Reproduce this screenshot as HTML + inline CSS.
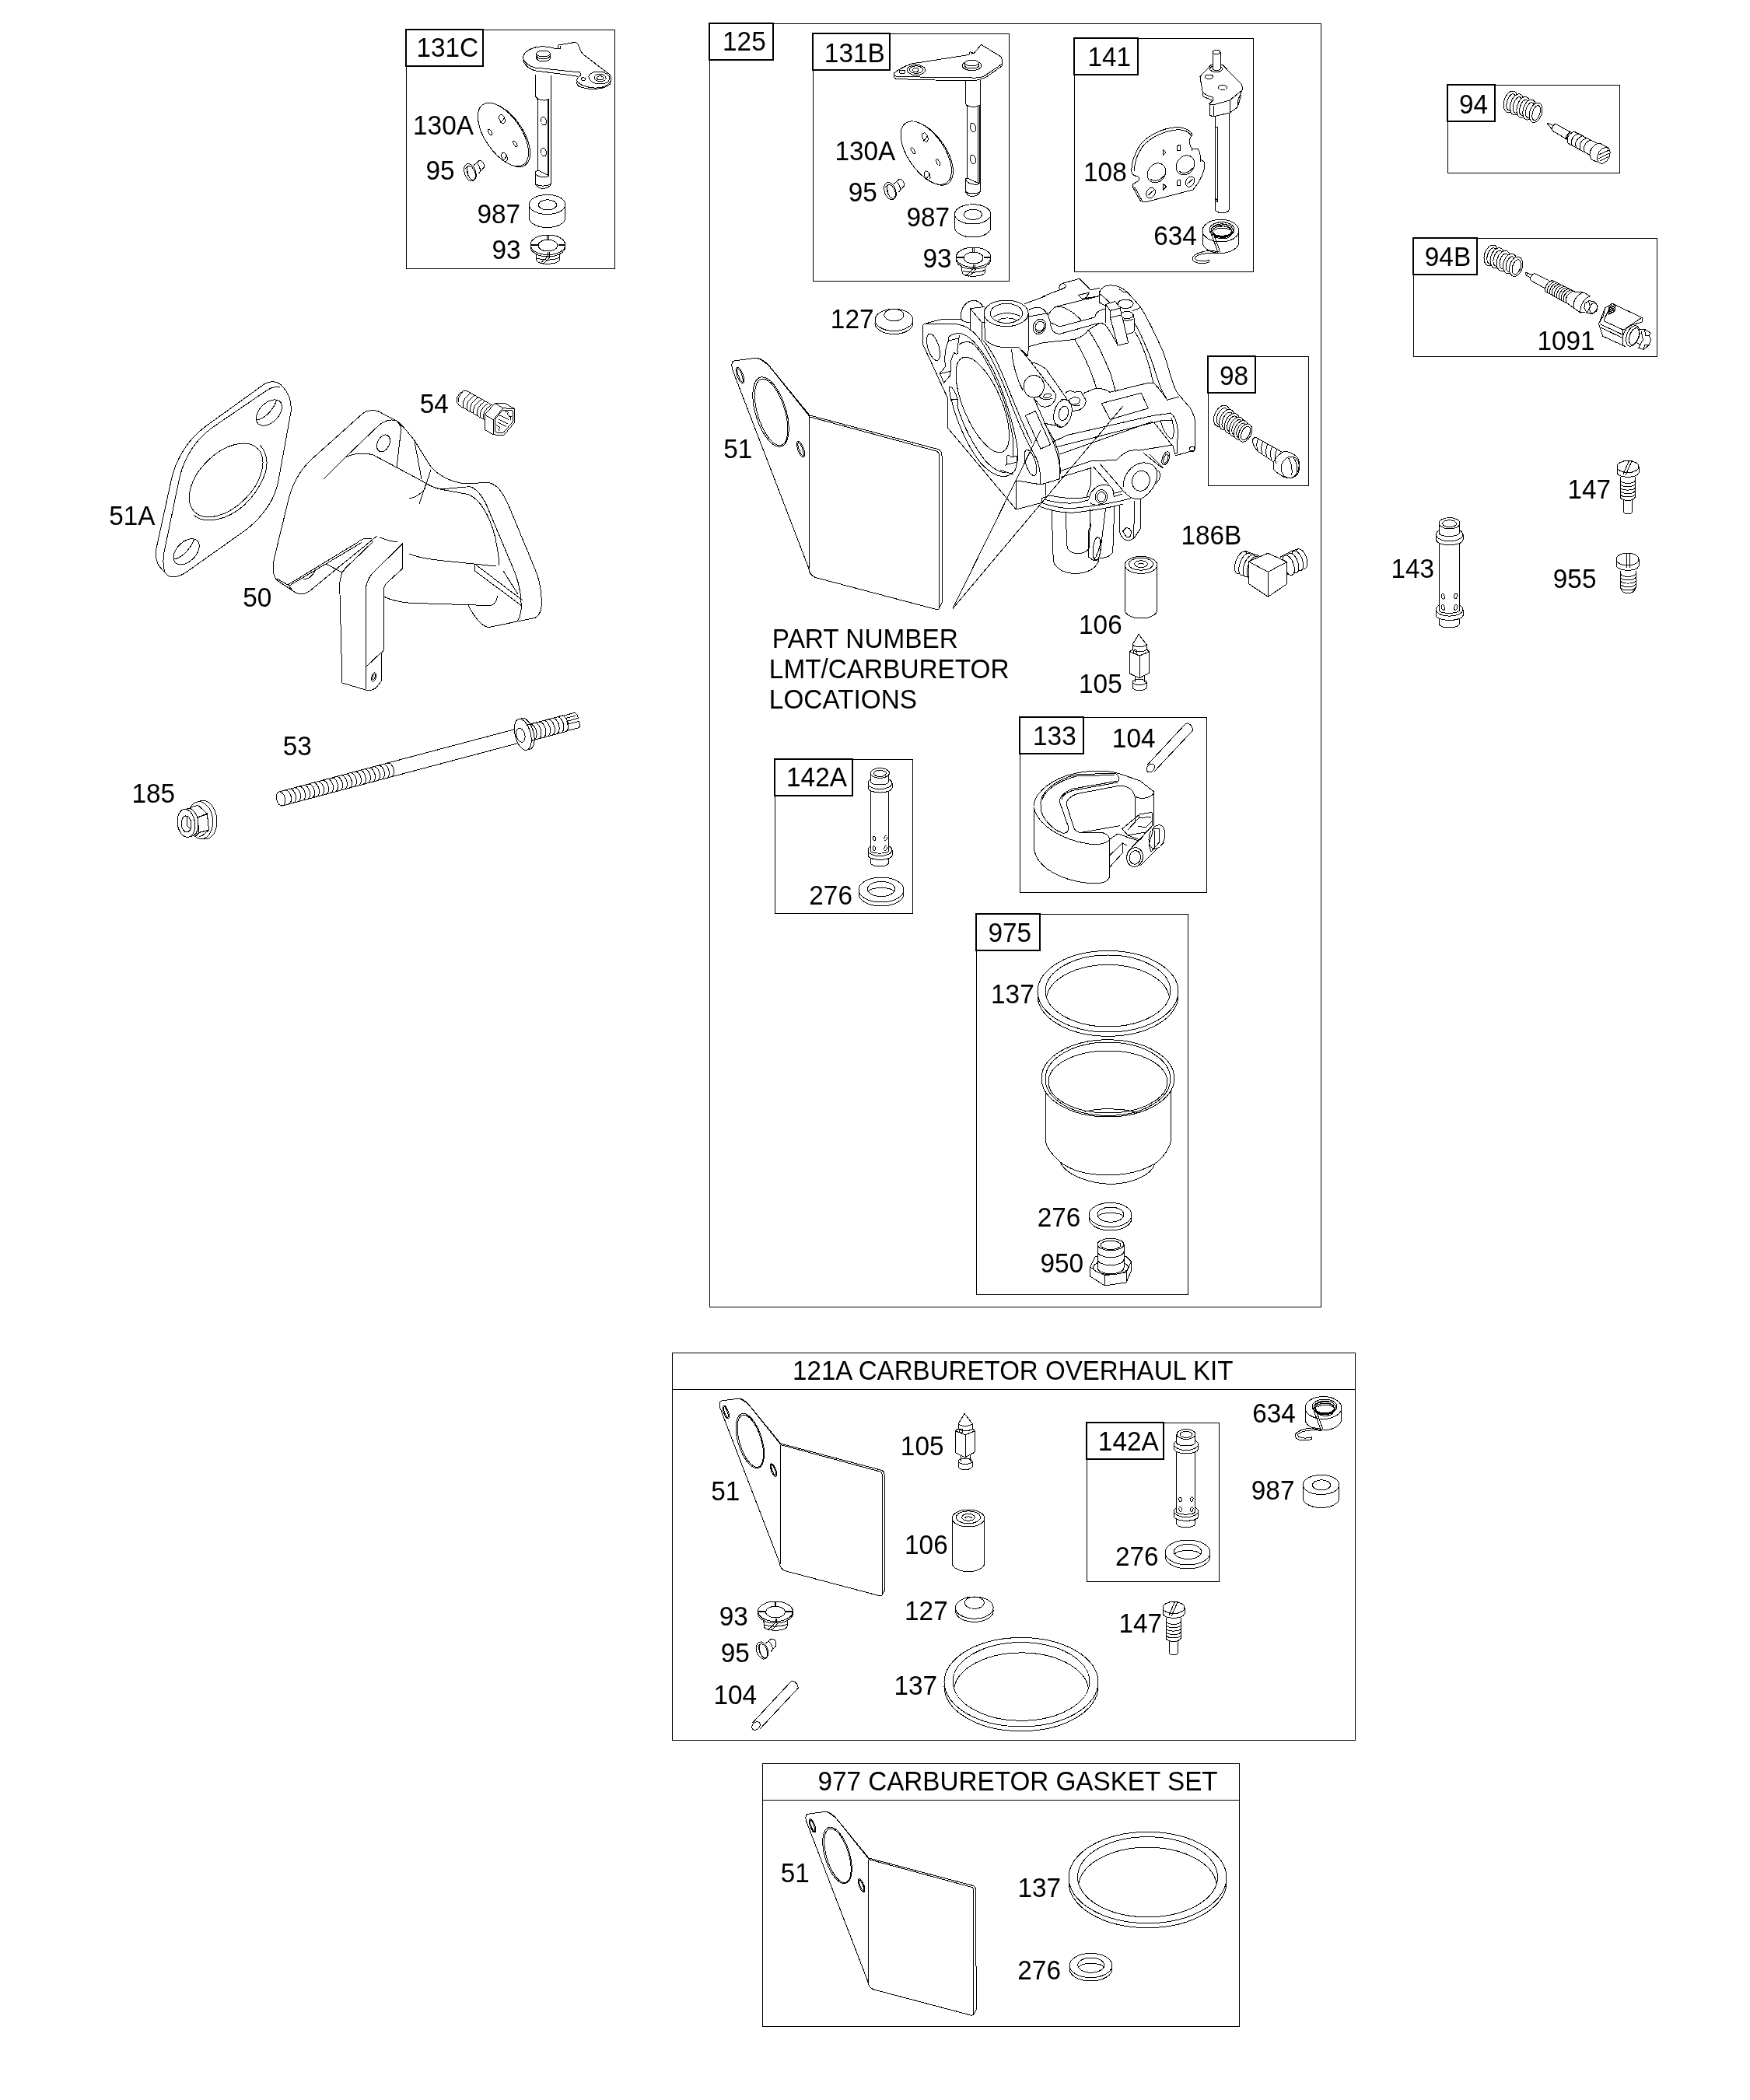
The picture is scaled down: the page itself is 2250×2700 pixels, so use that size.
<!DOCTYPE html>
<html><head><meta charset="utf-8"><title>Carburetor parts diagram</title>
<style>
html,body{margin:0;padding:0;background:#fff}
svg{display:block;filter:grayscale(1)}
text{font-family:"Liberation Sans",sans-serif;font-size:33.33px;fill:#000;stroke:none}
.b{fill:none;stroke:#000;stroke-width:1;shape-rendering:crispEdges}
.l{fill:none;stroke:#000;stroke-width:2;shape-rendering:crispEdges}
.p{fill:none;stroke:#000;stroke-width:1;shape-rendering:crispEdges}
.p *{vector-effect:non-scaling-stroke}
.w{fill:#fff}
</style></head><body>
<svg width="2250" height="2700" viewBox="0 0 2250 2700">
<rect x="0" y="0" width="2250" height="2700" fill="#fff"/>
<g class="p">
<rect class="b" x="522.5" y="38.5" width="268" height="307"/>
<rect class="l" x="522" y="38" width="99" height="47"/>
<rect class="b" x="912.5" y="30.5" width="786" height="1650"/>
<rect class="l" x="912" y="30" width="82" height="47"/>
<rect class="b" x="1045.5" y="43.5" width="252" height="318"/>
<rect class="l" x="1045" y="43" width="99" height="47"/>
<rect class="b" x="1381.5" y="49.5" width="230" height="300"/>
<rect class="l" x="1381" y="49" width="82" height="47"/>
<rect class="b" x="1553.5" y="458.5" width="129" height="166"/>
<rect class="l" x="1553" y="458" width="61" height="47"/>
<rect class="b" x="1311.5" y="922.5" width="240" height="225"/>
<rect class="l" x="1311" y="922" width="82" height="47"/>
<rect class="b" x="996.5" y="976.5" width="177" height="198"/>
<rect class="l" x="996" y="976" width="100" height="47"/>
<rect class="b" x="1255.5" y="1175.5" width="272" height="489"/>
<rect class="l" x="1255" y="1175" width="82" height="47"/>
<rect class="b" x="1861.5" y="109.5" width="221" height="113"/>
<rect class="l" x="1861" y="109" width="61" height="47"/>
<rect class="b" x="1817.5" y="306.5" width="313" height="152"/>
<rect class="l" x="1817" y="306" width="82" height="47"/>
<rect class="b" x="864.5" y="1739.5" width="878" height="498"/>
<path class="b" d="M864 1786.5H1743"/>
<rect class="b" x="1397.5" y="1829.5" width="170" height="204"/>
<rect class="l" x="1397" y="1829" width="99" height="47"/>
<rect class="b" x="980.5" y="2267.5" width="613" height="338"/>
<path class="b" d="M980 2314.5H1594"/>
<text transform="translate(535.47,73.40) scale(1,1.04)">131C</text>
<text transform="translate(531.07,173.40) scale(1,1.04)">130A</text>
<text transform="translate(547.43,231.40) scale(1,1.04)">95</text>
<text transform="translate(613.43,287.40) scale(1,1.04)">987</text>
<text transform="translate(632.43,333.00) scale(1,1.04)">93</text>
<text transform="translate(929.07,65.20) scale(1,1.04)">125</text>
<text transform="translate(1059.87,80.00) scale(1,1.04)">131B</text>
<text transform="translate(1073.47,206.00) scale(1,1.04)">130A</text>
<text transform="translate(1090.83,259.40) scale(1,1.04)">95</text>
<text transform="translate(1165.43,291.40) scale(1,1.04)">987</text>
<text transform="translate(1186.43,344.00) scale(1,1.04)">93</text>
<text transform="translate(1067.87,422.00) scale(1,1.04)">127</text>
<text transform="translate(1398.47,84.60) scale(1,1.04)">141</text>
<text transform="translate(1393.07,233.00) scale(1,1.04)">108</text>
<text transform="translate(1483.30,315.00) scale(1,1.04)">634</text>
<text transform="translate(1568.03,494.60) scale(1,1.04)">98</text>
<text transform="translate(1518.47,700.20) scale(1,1.04)">186B</text>
<text transform="translate(930.27,589.00) scale(1,1.04)">51</text>
<text transform="translate(1387.07,815.00) scale(1,1.04)">106</text>
<text transform="translate(1387.07,891.00) scale(1,1.04)">105</text>
<text transform="translate(1328.07,958.00) scale(1,1.04)">133</text>
<text transform="translate(1429.87,960.60) scale(1,1.04)">104</text>
<text transform="translate(1270.43,1211.40) scale(1,1.04)">975</text>
<text transform="translate(1274.07,1289.60) scale(1,1.04)">137</text>
<text transform="translate(1333.73,1576.60) scale(1,1.04)">276</text>
<text transform="translate(1337.43,1636.00) scale(1,1.04)">950</text>
<text transform="translate(992.87,833.00) scale(1,1.04)">PART NUMBER</text>
<text transform="translate(988.87,872.00) scale(1,1.04)">LMT/CARBURETOR</text>
<text transform="translate(988.87,911.00) scale(1,1.04)">LOCATIONS</text>
<text transform="translate(1011.07,1011.40) scale(1,1.04)">142A</text>
<text transform="translate(1040.33,1162.60) scale(1,1.04)">276</text>
<text transform="translate(1876.03,146.40) scale(1,1.04)">94</text>
<text transform="translate(1831.83,342.00) scale(1,1.04)">94B</text>
<text transform="translate(1976.47,450.00) scale(1,1.04)">1091</text>
<text transform="translate(2015.47,641.00) scale(1,1.04)">147</text>
<text transform="translate(1788.47,743.00) scale(1,1.04)">143</text>
<text transform="translate(1996.83,756.00) scale(1,1.04)">955</text>
<text transform="translate(140.27,675.40) scale(1,1.04)">51A</text>
<text transform="translate(312.27,780.00) scale(1,1.04)">50</text>
<text transform="translate(539.67,531.00) scale(1,1.04)">54</text>
<text transform="translate(169.47,1032.00) scale(1,1.04)">185</text>
<text transform="translate(363.67,971.00) scale(1,1.04)">53</text>
<text transform="translate(1019.08,1774.00) scale(0.9933,1.04)">121A CARBURETOR OVERHAUL KIT</text>
<text transform="translate(914.27,1929.00) scale(1,1.04)">51</text>
<text transform="translate(924.83,2090.00) scale(1,1.04)">93</text>
<text transform="translate(926.83,2137.00) scale(1,1.04)">95</text>
<text transform="translate(917.47,2191.00) scale(1,1.04)">104</text>
<text transform="translate(1157.87,1871.00) scale(1,1.04)">105</text>
<text transform="translate(1163.07,1998.00) scale(1,1.04)">106</text>
<text transform="translate(1163.07,2082.60) scale(1,1.04)">127</text>
<text transform="translate(1149.47,2179.00) scale(1,1.04)">137</text>
<text transform="translate(1411.87,1865.00) scale(1,1.04)">142A</text>
<text transform="translate(1433.93,2013.00) scale(1,1.04)">276</text>
<text transform="translate(1438.47,2099.00) scale(1,1.04)">147</text>
<text transform="translate(1610.30,1828.60) scale(1,1.04)">634</text>
<text transform="translate(1608.83,1928.00) scale(1,1.04)">987</text>
<text transform="translate(1051.44,2301.60) scale(0.9977,1.04)">977 CARBURETOR GASKET SET</text>
<text transform="translate(1003.67,2420.00) scale(1,1.04)">51</text>
<text transform="translate(1308.47,2439.40) scale(1,1.04)">137</text>
<text transform="translate(1308.33,2545.40) scale(1,1.04)">276</text>
<g transform="translate(500,20) scale(0.2)"><path d="M940,380L940,515C945,530 955,535 958,540L958,995C950,998 942,1003 940,1010L940,1080C945,1098 968,1112 990,1112C1012,1112 1036,1100 1040,1085L1040,385" class="w"/><path d="M940,515C955,548 1010,552 1030,535"/><path d="M1028,535L1028,1030M1021,540L1021,1026"/><path d="M958,995L1028,1030M940,1010C950,1042 1010,1047 1028,1030M940,1080C960,1100 1020,1100 1040,1082"/><ellipse cx="995" cy="678" rx="17" ry="27" transform="rotate(-10 995 678)"/><ellipse cx="995" cy="878" rx="17" ry="27" transform="rotate(-10 995 878)"/><path d="M864,285C866,312 900,345 945,355L1200,388L1215,395M1210,425C1203,440 1215,455 1240,462C1290,478 1385,478 1422,440L1427,415"/><path d="M862,272C865,240 900,215 950,203C990,195 1030,200 1060,210L1088,213L1090,190L1195,172C1210,172 1218,185 1225,205C1232,225 1238,240 1250,250L1400,365C1425,375 1432,400 1425,420C1415,450 1370,468 1320,465C1270,462 1225,445 1212,425C1205,410 1215,395 1235,385L1228,365L940,335C900,325 870,300 862,272Z" class="w"/><path d="M948,245L948,275C960,300 1025,300 1038,275L1038,245" class="w"/><ellipse cx="993" cy="245" rx="45" ry="20" class="w"/><path d="M950,262C965,285 1020,285 1036,262"/><ellipse cx="1352" cy="400" rx="68" ry="40" transform="rotate(5 1352 400)"/><ellipse cx="1358" cy="400" rx="38" ry="24" transform="rotate(5 1358 400)"/><ellipse cx="1358" cy="402" rx="20" ry="13"/><ellipse cx="1250" cy="408" rx="13" ry="9"/><path d="M1088,213L1100,215L1102,195"/><ellipse cx="745" cy="769" rx="233" ry="117" transform="rotate(55.6 745 769)" class="w"/><ellipse cx="735" cy="765" rx="233" ry="117" transform="rotate(55.6 735 765)" class="w"/><ellipse cx="728" cy="665" rx="17" ry="30" transform="rotate(-22 728 665)"/><ellipse cx="742" cy="910" rx="17" ry="30" transform="rotate(-22 742 910)"/><ellipse cx="650" cy="750" rx="9" ry="23" transform="rotate(-30 650 750)"/><ellipse cx="812" cy="825" rx="9" ry="23" transform="rotate(-30 812 825)"/><path d="M718,690C725,680 740,668 745,650"/><path d="M732,935C740,925 755,912 760,895"/><path d="M545,962L578,935C598,928 615,948 612,975L578,1015" class="w"/><path d="M562,948C578,958 590,985 588,1003"/><ellipse cx="522" cy="1008" rx="36" ry="58" transform="rotate(-20 522 1008)" class="w"/><ellipse cx="529" cy="1012" rx="24" ry="47" transform="rotate(-20 529 1012)"/><path d="M505,975C500,1000 510,1040 530,1055"/><path d="M490,985L510,968"/><path d="M902,1215L902,1300A116,63 0 0 0 1134,1300L1134,1215" class="w"/><ellipse cx="1018" cy="1215" rx="116" ry="63" class="w"/><ellipse cx="1020" cy="1217" rx="58" ry="33"/><path d="M945,1520L950,1575C965,1602 1080,1606 1098,1570L1100,1520" class="w"/><path d="M975,1590C1000,1572 1020,1552 1030,1527"/><path d="M990,1597C1012,1582 1032,1562 1042,1537"/><path d="M952,1560C990,1575 1060,1575 1098,1555"/><ellipse cx="1022" cy="1486" rx="112" ry="64" class="w"/><ellipse cx="1022" cy="1474" rx="112" ry="64" class="w"/><ellipse cx="1022" cy="1478" rx="62" ry="37"/><path d="M1018,1410L1018,1438M1027,1410L1027,1438M912,1472L958,1472M912,1479L958,1479M1088,1472L1134,1472M1088,1479L1134,1479M1024,1518L1024,1548M1031,1518L1031,1548"/></g>
<g transform="translate(1150,20) scale(0.2)"><path d="M457,420L457,565C462,575 467,578 467,580L467,1045C460,1047 457,1050 457,1055L457,1130C462,1150 480,1162 500,1162C522,1162 548,1150 553,1130L553,415" class="w"/><path d="M457,565C470,592 530,592 545,575M545,575L545,1080M538,580L538,1076M467,1045L545,1080M457,1052C470,1087 530,1092 545,1080M457,1130C475,1150 535,1150 553,1130"/><ellipse cx="505" cy="720" rx="17" ry="29" transform="rotate(-10 505 720)"/><ellipse cx="505" cy="925" rx="17" ry="29" transform="rotate(-10 505 925)"/><path d="M-5,380C-5,395 0,405 15,408L260,415L500,418C540,418 570,405 590,395L690,325L690,312"/><path d="M-5,372C20,350 70,325 110,310L480,252L485,233L510,243L558,187L685,265C692,280 692,300 690,312L575,390C560,398 520,402 500,400C400,395 200,398 20,392C5,390 -5,382 -5,372Z" class="w"/><ellipse cx="498" cy="322" rx="62" ry="31" class="w"/><path d="M453,305L453,325C465,345 530,345 543,325L543,305" class="w"/><ellipse cx="498" cy="305" rx="45" ry="20" class="w"/><ellipse cx="140" cy="350" rx="58" ry="33"/><ellipse cx="140" cy="348" rx="42" ry="24"/><ellipse cx="137" cy="350" rx="18" ry="12"/><ellipse cx="50" cy="362" rx="20" ry="12"/><path d="M485,233L497,238L495,250"/></g>
<g transform="translate(1043.8,43.6) scale(0.2)"><ellipse cx="745" cy="769" rx="233" ry="117" transform="rotate(55.6 745 769)" class="w"/><ellipse cx="735" cy="765" rx="233" ry="117" transform="rotate(55.6 735 765)" class="w"/><ellipse cx="728" cy="665" rx="17" ry="30" transform="rotate(-22 728 665)"/><ellipse cx="742" cy="910" rx="17" ry="30" transform="rotate(-22 742 910)"/><ellipse cx="650" cy="750" rx="9" ry="23" transform="rotate(-30 650 750)"/><ellipse cx="812" cy="825" rx="9" ry="23" transform="rotate(-30 812 825)"/><path d="M718,690C725,680 740,668 745,650"/><path d="M732,935C740,925 755,912 760,895"/></g>
<g transform="translate(1040,44) scale(0.2)"><path d="M545,962L578,935C598,928 615,948 612,975L578,1015" class="w"/><path d="M562,948C578,958 590,985 588,1003"/><ellipse cx="522" cy="1008" rx="36" ry="58" transform="rotate(-20 522 1008)" class="w"/><ellipse cx="529" cy="1012" rx="24" ry="47" transform="rotate(-20 529 1012)"/><path d="M505,975C500,1000 510,1040 530,1055"/><path d="M490,985L510,968"/></g>
<g transform="translate(1047,32.4) scale(0.2)"><path d="M902,1215L902,1300A116,63 0 0 0 1134,1300L1134,1215" class="w"/><ellipse cx="1018" cy="1215" rx="116" ry="63" class="w"/><ellipse cx="1020" cy="1217" rx="58" ry="33"/></g>
<g transform="translate(1047.2,36) scale(0.2)"><path d="M945,1520L950,1575C965,1602 1080,1606 1098,1570L1100,1520" class="w"/><path d="M975,1590C1000,1572 1020,1552 1030,1527"/><path d="M990,1597C1012,1582 1032,1562 1042,1537"/><path d="M952,1560C990,1575 1060,1575 1098,1555"/><ellipse cx="1022" cy="1486" rx="112" ry="64" class="w"/><ellipse cx="1022" cy="1474" rx="112" ry="64" class="w"/><ellipse cx="1022" cy="1478" rx="62" ry="37"/><path d="M1018,1410L1018,1438M1027,1410L1027,1438M912,1472L958,1472M912,1479L958,1479M1088,1472L1134,1472M1088,1479L1134,1479M1024,1518L1024,1548M1031,1518L1031,1548"/></g>
<g transform="translate(1370,20) scale(0.2)"><path d="M960,640L960,1245C965,1262 990,1270 1008,1270C1030,1268 1050,1258 1053,1245L1053,620" class="w"/><path d="M963,715L978,715L978,1195L963,1195M963,1170L978,1195"/><path d="M925,568L925,640L950,650L1055,625L1105,590L1110,540L1135,480L1055,545L945,575Z" class="w"/><path d="M950,578L950,650M1055,545L1055,625M1105,590L1130,510"/><path d="M865,392L935,318C960,308 990,308 1010,318L1130,440C1138,455 1138,470 1135,480L1055,545L945,575L925,568L945,547L945,525C910,515 885,505 880,485Z" class="w"/><path d="M865,392L868,430M880,485L885,520L945,547"/><ellipse cx="968" cy="343" rx="40" ry="20"/><path d="M945,235L945,345C955,355 985,355 995,345L995,235" class="w"/><ellipse cx="970" cy="235" rx="25" ry="12" class="w"/><ellipse cx="922" cy="393" rx="25" ry="13"/><ellipse cx="1010" cy="463" rx="28" ry="15"/><path d="M425,1005C420,960 440,890 480,830C530,770 620,725 710,718C760,716 800,735 815,765L800,790C795,820 800,845 815,855L850,858C865,875 868,900 870,925L895,945C895,1000 870,1060 820,1120L510,1200C495,1200 485,1195 478,1185L430,1100L430,1085L470,1062C478,1050 475,1040 465,1035L440,1028C430,1022 426,1015 425,1005Z" class="w"/><path d="M442,1000C442,950 457,895 497,840C542,785 632,742 717,734C760,732 790,747 805,767M430,1100L447,1108L492,1190M815,855L812,868M870,925L868,940"/><ellipse cx="585" cy="1012" rx="55" ry="66" transform="rotate(35 585 1012)"/><ellipse cx="770" cy="962" rx="55" ry="66" transform="rotate(35 770 962)"/><ellipse cx="800" cy="1068" rx="27" ry="36" transform="rotate(30 800 1068)"/><ellipse cx="548" cy="1140" rx="27" ry="36" transform="rotate(30 548 1140)"/><path d="M545,1050C565,1072 610,1060 632,1030M730,1000C750,1022 795,1010 817,980M780,1085L820,1050M528,1158L568,1122"/><path d="M628,862L628,897L646,880ZM718,838L738,832L738,866L718,868ZM628,1082L628,1120L648,1100ZM718,1060L738,1057L738,1091L718,1092Z"/><path d="M880,1383L880,1455A117,72 0 0 0 1114,1455L1114,1383" class="w"/><ellipse cx="997" cy="1383" rx="117" ry="72" class="w"/><ellipse cx="1005" cy="1376" rx="80" ry="48"/><ellipse cx="1006" cy="1380" rx="70" ry="41"/><ellipse cx="1007" cy="1386" rx="60" ry="33"/><path d="M940,1395C960,1422 1050,1425 1075,1392M945,1405C965,1432 1045,1435 1068,1405M935,1380C945,1350 1000,1338 1050,1348M950,1372C965,1352 1040,1348 1065,1368M958,1380C972,1364 1035,1360 1058,1378M952,1412C972,1440 1040,1442 1060,1416"/><path d="M928,1380L980,1522M942,1378L994,1520"/><path d="M985,1520C950,1510 900,1510 860,1525C820,1540 805,1560 825,1580C850,1598 900,1595 922,1585L922,1572C900,1580 860,1582 840,1570C825,1558 835,1545 870,1535C910,1525 950,1525 985,1530"/></g>
<g transform="translate(1180,380) scale(0.14285714285714285)"><path d="M42,430L42,290C42,265 55,255 75,250L225,212L392,212"/><path d="M42,430L270,925L270,1192L885,1925L1115,1865"/><path d="M75,252L350,258C420,265 480,300 540,370"/><path d="M885,1665L885,1925M885,1665L1105,1700L1148,1690L1150,1800"/><path d="M392,212C375,150 410,60 490,45C540,40 570,70 590,100M392,212C400,232 420,240 470,242"/><path d="M472,118L600,100M472,118L472,300M472,118L580,245L608,240M580,245L578,405"/><ellipse cx="795" cy="160" rx="200" ry="118"/><ellipse cx="798" cy="160" rx="145" ry="88"/><path d="M680,195C720,160 830,140 920,185M720,225C760,195 850,195 890,225"/><path d="M595,165L608,400C660,450 740,475 850,465L910,468L990,545M995,165L998,455L990,545"/><path d="M960,75L1150,5"/><ellipse cx="140" cy="465" rx="50" ry="125" transform="rotate(-17 140 465)"/><path d="M200,705L295,680L290,720L235,785Z"/><path d="M280,370L278,405L370,385L375,355M370,385L355,500M330,510C330,525 350,530 360,520L360,495"/><path d="M278,405C255,450 240,520 245,600L248,640L200,700M330,510C300,560 290,620 295,680"/><path d="M280,830C300,805 335,850 360,940L360,990M280,830L300,940L360,930"/><path d="M280,370C320,340 370,335 400,345C480,370 560,470 640,600C720,740 800,960 850,1150C890,1300 905,1400 900,1470"/><path d="M370,440C400,420 450,410 480,425C560,470 650,640 740,850C800,1000 850,1200 860,1330L855,1450"/><path d="M540,370C640,500 760,760 850,1000C920,1180 1000,1350 1060,1450C1095,1520 1108,1600 1105,1700"/><path d="M590,405C660,480 720,600 800,800C880,1000 960,1200 1030,1330"/><ellipse cx="583" cy="983" rx="172" ry="460" transform="rotate(-23 583 983)"/><path d="M300,930C340,1100 430,1330 560,1500C640,1590 720,1640 800,1625C830,1615 860,1595 880,1565L900,1470"/><path d="M355,990C400,1150 500,1360 620,1500C690,1570 760,1600 790,1590M740,1570L860,1610"/><path d="M800,1445C815,1435 830,1440 835,1455L895,1445L895,1500L800,1520ZM800,1520L780,1535"/><ellipse cx="1015" cy="1505" rx="45" ry="120" transform="rotate(-17 1015 1505)"/><path d="M845,485C850,600 890,750 945,850"/><path d="M910,468L1020,600C1080,610 1130,640 1160,670L1345,935"/><ellipse cx="1045" cy="818" rx="92" ry="100"/><path d="M1020,600L1240,885C1250,920 1230,960 1200,985C1160,1010 1120,1005 1100,990L1045,925"/><ellipse cx="1165" cy="903" rx="35" ry="20" transform="rotate(-10 1165 903)"/><path d="M1090,900C1100,930 1150,950 1210,925"/><path d="M968,1080L1060,1040L1195,1340L1105,1380Z"/><path d="M1045,925C1100,1050 1180,1220 1230,1350C1260,1430 1275,1500 1278,1560L1275,1650L1148,1690"/><ellipse cx="1095" cy="280" rx="55" ry="70" transform="rotate(20 1095 280)"/><ellipse cx="1098" cy="283" rx="40" ry="52" transform="rotate(20 1098 283)"/><path d="M1065,300C1085,330 1120,320 1135,290"/><path d="M1000,128C1040,108 1090,100 1125,120C1160,150 1185,200 1195,250"/><path d="M998,188L1178,158M1000,460L1120,427"/></g>
<g transform="translate(1340,350) scale(0.14285714285714285)"><path d="M0,220L155,160C150,130 160,105 185,100L335,58L435,160L520,140M185,100C205,105 215,120 210,135L160,160"/><path d="M325,205L420,185L400,225L360,240ZM360,240L510,215"/><path d="M515,235C505,180 530,135 580,122C640,110 700,125 760,175C800,215 850,270 885,315C950,410 1030,590 1090,720C1130,830 1150,930 1185,1020C1200,1060 1220,1095 1240,1115L1330,1220C1360,1270 1375,1310 1378,1360L1375,1590C1372,1600 1365,1605 1355,1607L1200,1650"/><path d="M690,150C715,170 740,185 755,183M513,170L513,272L575,305M520,195L610,275"/><path d="M570,290L655,262L705,322L612,345ZM612,345L612,408L710,385L705,322M570,290L570,455M612,408L680,660L775,635L720,400"/><ellipse cx="750" cy="285" rx="70" ry="40"/><ellipse cx="762" cy="385" rx="55" ry="33"/><path d="M810,350L885,318M825,380L830,530C810,550 780,555 760,553M720,425C740,440 790,440 820,420"/><path d="M835,465C870,520 960,720 1000,840C1030,930 1050,1010 1075,1060L1125,1150L1235,1120M835,540C880,600 940,760 970,870C985,930 995,980 1000,1000"/><path d="M55,385C80,340 100,320 125,310L510,215M125,310C200,300 290,370 350,430M80,455L155,490L475,405L480,380C500,350 530,335 570,330"/><path d="M75,470C80,520 110,555 160,555L520,455C545,460 560,470 570,475M0,635L290,605C340,590 390,560 415,520L520,455"/><path d="M415,520C500,640 570,800 610,900C630,960 650,1030 660,1080M290,605C350,690 420,850 450,930C465,970 480,1010 485,1040M570,475C620,540 650,600 680,660"/><path d="M370,1090L480,1045C530,1040 570,1055 610,1080L960,995L1005,1000C1050,1040 1090,1100 1125,1150"/><path d="M535,1180L890,1088L955,1225L610,1325Z"/><ellipse cx="185" cy="1270" rx="78" ry="128" transform="rotate(15 185 1270)"/><ellipse cx="192" cy="1270" rx="42" ry="65" transform="rotate(15 192 1270)"/><path d="M170,1145L240,1150M120,1360L170,1395L185,1395M20,1360L120,1380"/><path d="M210,1090C220,1070 260,1060 290,1080L345,1072L390,1145C400,1180 380,1220 330,1240L270,1250"/><ellipse cx="290" cy="1158" rx="50" ry="32" transform="rotate(-10 290 1158)"/><path d="M240,1160C250,1195 300,1210 340,1195"/><path d="M100,1525L230,1465L1000,1290L1150,1270M120,1575L1070,1335L1175,1330M150,1640L990,1345M1005,1350L1170,1560"/><path d="M1065,1340C1080,1400 1120,1480 1160,1500C1190,1490 1195,1400 1160,1310"/><path d="M1150,1265C1190,1290 1215,1350 1220,1420L1215,1625L1195,1635L1175,1555L860,1605"/><path d="M160,1790L440,1700L670,1690C700,1650 740,1625 790,1605L860,1600M165,1845L430,1765"/><path d="M150,1870L160,1840C170,1700 140,1560 90,1480L20,1360"/><ellipse cx="1350" cy="1590" rx="22" ry="22"/></g>
<g transform="translate(1300,540) scale(0.14285714285714285)"><path d="M275,705L350,680C450,700 600,715 700,690M275,705L275,745M275,745C400,790 520,800 600,790C750,775 950,740 1080,705M300,715C420,750 520,755 600,745L700,720M260,780C400,830 520,840 600,830C760,810 930,780 1010,755"/><path d="M365,810L380,1270C400,1340 480,1380 580,1382C680,1380 760,1340 785,1275L790,1255M490,825L505,1150C520,1185 560,1200 600,1200C650,1200 690,1180 705,1150L710,800"/><path d="M710,800L715,960L700,985L695,1230L740,1265L785,1250L800,1200L850,800M930,780L915,1190C890,1230 840,1245 790,1240M740,1265C770,1230 800,1150 810,1080"/><ellipse cx="772" cy="1160" rx="35" ry="105" transform="rotate(5 772 1160)"/><path d="M975,765L978,1010C990,1060 1030,1090 1060,1085L1105,1065L1165,975L1165,715M1108,725L1105,1065M1005,1000L1035,970L1065,975L1085,1010L1070,1050L1035,1050Z"/><path d="M705,705C705,650 760,590 830,583C880,582 910,600 920,640L925,690L1000,665M925,660L1000,640M710,740C720,760 760,770 800,760"/><ellipse cx="812" cy="690" rx="55" ry="62" transform="rotate(10 812 690)"/><ellipse cx="812" cy="692" rx="38" ry="44" transform="rotate(10 812 692)"/><path d="M715,420L720,570C710,610 690,650 680,690"/><ellipse cx="1168" cy="548" rx="78" ry="92" transform="rotate(15 1168 548)"/><path d="M1010,600C1005,500 1080,400 1180,385C1260,380 1310,420 1315,480C1320,560 1260,660 1170,710C1120,720 1060,700 1025,650M1315,455C1340,460 1345,490 1335,530L1305,575"/><path d="M740,420L880,580M800,395L1020,650M1250,310L1370,435M1190,295L1350,425"/><ellipse cx="1392" cy="345" rx="30" ry="62" transform="rotate(20 1392 345)"/><ellipse cx="1392" cy="347" rx="17" ry="42" transform="rotate(20 1392 347)"/></g>
<path d="M1225,782.4L1338,553M1225,782.4L1443.6,522.4"/>
<g transform="translate(910,400) scale(0.2)"><path d="M655,680L1470,900C1485,905 1487,920 1487,930L1487,1915M652,680L652,1655M325,305C355,318 385,340 415,378L655,678"/><path d="M170,320L320,300C350,310 380,330 410,370L655,670L1480,888C1500,895 1505,910 1505,930L1508,1870L1485,1915L1470,1918L690,1712C665,1700 650,1680 648,1650L160,380C150,345 155,325 170,320Z"/><ellipse cx="405" cy="648" rx="98" ry="232" transform="rotate(-17 405 648)"/><ellipse cx="408" cy="650" rx="88" ry="222" transform="rotate(-17 408 650)"/><ellipse cx="208" cy="413" rx="19" ry="56" transform="rotate(-20 208 413)"/><ellipse cx="208" cy="413" rx="11" ry="46" transform="rotate(-20 208 413)"/><ellipse cx="598" cy="888" rx="19" ry="56" transform="rotate(-20 598 888)"/><ellipse cx="598" cy="888" rx="11" ry="46" transform="rotate(-20 598 888)"/></g>
<g transform="translate(900,20) scale(0.2)"><ellipse cx="1247" cy="1977.5" rx="122" ry="70.5" class="w"/><ellipse cx="1247" cy="1957" rx="122" ry="70.5" class="w"/><ellipse cx="1247" cy="1925" rx="62.5" ry="38.5"/></g>
<g transform="translate(1550,500) scale(0.13333333333333333)"><ellipse cx="155" cy="260" rx="68.0" ry="108.0" transform="rotate(25 155 260)" class="w"/><ellipse cx="159" cy="263" rx="44.0" ry="84.0" transform="rotate(25 159 263)"/><ellipse cx="205" cy="298" rx="65.96" ry="104.75999999999999" transform="rotate(25 205 298)" class="w"/><ellipse cx="209" cy="301" rx="42.68" ry="81.48" transform="rotate(25 209 301)"/><ellipse cx="253" cy="333" rx="63.919999999999995" ry="101.52" transform="rotate(25 253 333)" class="w"/><ellipse cx="257" cy="336" rx="41.36" ry="78.96" transform="rotate(25 257 336)"/><ellipse cx="298" cy="366" rx="62.56" ry="99.36" transform="rotate(25 298 366)" class="w"/><ellipse cx="302" cy="369" rx="40.480000000000004" ry="77.28" transform="rotate(25 302 369)"/><ellipse cx="342" cy="397" rx="61.2" ry="97.2" transform="rotate(25 342 397)" class="w"/><ellipse cx="346" cy="400" rx="39.6" ry="75.60000000000001" transform="rotate(25 346 400)"/><ellipse cx="383" cy="424" rx="57.8" ry="91.8" transform="rotate(25 383 424)" class="w"/><ellipse cx="387" cy="427" rx="37.4" ry="71.39999999999999" transform="rotate(25 387 427)"/><path d="M450,505C450,485 465,468 485,468L740,610C790,595 850,620 885,660C910,700 912,770 890,815C865,855 810,870 770,855C730,840 680,800 660,780L658,705L500,600C480,570 455,535 450,505Z" class="w"/><path d="M510,482C490,510 488,560 505,600M555,508C535,535 532,590 548,632M600,532C580,560 578,615 592,660M645,557C625,585 622,640 636,690M690,582C670,610 665,670 680,718"/><ellipse cx="815" cy="755" rx="85" ry="105" transform="rotate(15 815 755)"/><path d="M800,665C830,720 840,780 830,835M845,655C875,700 890,760 880,815M740,610C700,640 665,680 658,705"/><path d="M372,1560L520,1612M300,1762L415,1800M720,1622L835,1562L880,1545M790,1792L850,1770L985,1690"/><ellipse cx="345" cy="1675" rx="55" ry="112" transform="rotate(20 345 1675)" class="w"/><ellipse cx="385" cy="1692" rx="55" ry="112" transform="rotate(20 385 1692)" class="w"/><ellipse cx="425" cy="1708" rx="55" ry="112" transform="rotate(20 425 1708)" class="w"/><ellipse cx="462" cy="1722" rx="55" ry="112" transform="rotate(20 462 1722)" class="w"/><ellipse cx="925" cy="1638" rx="50" ry="100" transform="rotate(-20 925 1638)" class="w"/><ellipse cx="885" cy="1658" rx="50" ry="100" transform="rotate(-20 885 1658)" class="w"/><ellipse cx="842" cy="1680" rx="50" ry="100" transform="rotate(-20 842 1680)" class="w"/><ellipse cx="800" cy="1700" rx="50" ry="100" transform="rotate(-20 800 1700)" class="w"/><path d="M600,1585L785,1668L785,1880L603,2005L415,1878L415,1665Z" class="w"/><path d="M415,1665L603,1765L785,1668M603,1765L603,2005"/></g>
<g transform="translate(1270,680) scale(0.2)"><path d="M881,232L881,520A104,55 0 0 0 1089,520L1089,232" class="w"/><ellipse cx="985" cy="232" rx="104" ry="55" class="w"/><ellipse cx="985" cy="226" rx="78" ry="40"/><ellipse cx="985" cy="226" rx="42" ry="22"/><path d="M962,232C972,218 998,218 1008,232"/><path d="M970,678L930,745L930,775L912,790L912,930L975,960L1038,925L1038,790L1022,775L1022,745Z" class="w"/><path d="M930,775C950,795 1000,795 1022,775M930,745C950,762 1000,762 1022,745M912,790L975,815L1038,790M975,815L975,960"/><ellipse cx="948" cy="790" rx="12" ry="12"/><path d="M945,948L945,985M1005,945L1005,985"/><path d="M930,985L930,1020C940,1045 1010,1045 1020,1020L1020,985"/><ellipse cx="975" cy="985" rx="45" ry="18"/><path d="M1025,1518L1270,1255C1285,1240 1315,1260 1318,1295L1070,1560"/><ellipse cx="1047" cy="1538" rx="30" ry="22" transform="rotate(-47 1047 1538)"/></g>
<g transform="translate(1240,900) scale(0.2)"><path d="M1062,962L1205,815M1132,1062L1282,915"/><ellipse cx="1237" cy="880" rx="50" ry="78" transform="rotate(15 1237 880)" class="w"/><path d="M1215,830L1250,825L1252,915L1200,975L1185,930Z"/><path d="M1222,840L1222,960"/><ellipse cx="1095" cy="1010" rx="52" ry="62" transform="rotate(10 1095 1010)" class="w"/><ellipse cx="1097" cy="1012" rx="36" ry="44" transform="rotate(10 1097 1012)"/><path d="M933,1000L1015,920L1015,985L933,1075M1015,920L1045,935"/><path d="M1015,828L1125,735L1205,722L1208,808L1165,850L1050,870Z" class="w"/><path d="M1125,735L1120,760L1050,835M1120,760L1200,750M1115,810L1165,820L1205,780M1050,870L1130,900L1165,850M1040,880L1120,905"/><path d="M985,860L935,895M985,860L1045,880"/><path d="M445,680L447,960C470,1080 620,1160 800,1178C880,1185 930,1170 933,1130L933,895" class="w"/><path d="M445,680C450,600 560,500 720,470C850,445 950,460 1000,475L1130,520L1218,590L1218,810M1095,620C1130,640 1190,635 1218,600M1095,620L1095,790"/><path d="M445,690C470,800 620,900 800,925C880,935 930,915 933,890C925,860 890,850 850,853L745,853C720,850 705,830 700,810L655,670C655,640 690,610 740,600L990,552C1050,550 1085,570 1095,620"/><path d="M490,670C485,600 580,510 720,480L960,470C990,475 995,500 990,520L700,570C650,585 610,620 612,655L668,815C672,845 655,860 630,855C560,830 500,760 490,700Z"/><path d="M500,640C520,580 600,520 720,490L965,482M625,640C630,610 660,590 705,580L985,530M745,853L1000,808"/></g>
<g transform="translate(960,780) scale(0.2)"><path d="M797,1620L797,1650C810,1675 900,1675 913,1650L913,1620" class="w"/><path d="M780,1565L780,1600C790,1635 925,1635 935,1600L935,1565" class="w"/><ellipse cx="857" cy="1565" rx="77" ry="38" class="w"/><path d="M797,1165L797,1572C810,1590 900,1590 913,1572L913,1165" class="w"/><ellipse cx="820" cy="1490" rx="9" ry="15" transform="rotate(-15 820 1490)"/><ellipse cx="893" cy="1488" rx="9" ry="15" transform="rotate(15 893 1488)"/><ellipse cx="820" cy="1553" rx="9" ry="15" transform="rotate(-15 820 1553)"/><ellipse cx="893" cy="1553" rx="9" ry="15" transform="rotate(15 893 1553)"/><path d="M780,1135L780,1165C790,1205 925,1205 935,1165L935,1135" class="w"/><ellipse cx="857" cy="1135" rx="77" ry="38" class="w"/><path d="M797,1070L797,1128C810,1150 900,1150 913,1128L913,1070" class="w"/><ellipse cx="857" cy="1070" rx="60" ry="32" class="w"/><ellipse cx="857" cy="1072" rx="40" ry="20"/><ellipse cx="865" cy="1845" rx="145" ry="80" class="w"/><ellipse cx="865" cy="1820" rx="145" ry="80" class="w"/><ellipse cx="865" cy="1815" rx="88" ry="48"/><path d="M782,1832C800,1800 930,1800 948,1832"/></g>
<g transform="translate(1424.5,1274.7)"><ellipse cx="0" cy="5.3" rx="90.5" ry="52.3" class="w"/><ellipse cx="0" cy="0" rx="90.5" ry="52.3" class="w"/><ellipse cx="0" cy="-0.7" rx="80.3" ry="46.0"/><path d="M-78.8,6.5A79.3,46.0 0 0 1 78.8,6.5"/></g>
<g transform="translate(1230,1260) scale(0.2)"><path d="M665,1170C700,1250 850,1312 1000,1312C1120,1308 1250,1260 1275,1180"/><path d="M572,640L572,1040C580,1080 620,1130 665,1170C800,1275 1100,1285 1275,1180C1320,1150 1365,1090 1375,1040L1375,640" class="w"/><ellipse cx="972" cy="632" rx="427" ry="248" class="w"/><ellipse cx="972" cy="636" rx="402" ry="236"/><ellipse cx="972" cy="655" rx="382" ry="200"/><path d="M820,848C900,822 1060,822 1160,852"/><ellipse cx="988" cy="1532" rx="137" ry="78" class="w"/><ellipse cx="988" cy="1510" rx="137" ry="78" class="w"/><ellipse cx="990" cy="1508" rx="85" ry="48"/><path d="M910,1520C925,1490 1055,1490 1070,1520"/><path d="M858,1845L890,1780L1090,1778L1122,1810L1122,1870L1090,1945L952,1965L858,1905Z" class="w"/><path d="M858,1845L952,1900L1090,1880L1122,1810M952,1900L952,1965M1090,1880L1090,1945"/><ellipse cx="990" cy="1848" rx="112" ry="45" class="w"/><path d="M905,1700L905,1850A85,38 0 0 0 1075,1850L1075,1700" class="w"/><path d="M905,1745A85,38 0 0 0 1075,1745"/><path d="M905,1795A85,38 0 0 0 1075,1795"/><ellipse cx="990" cy="1700" rx="85" ry="38" class="w"/><ellipse cx="990" cy="1704" rx="65" ry="28"/></g>
<g transform="translate(1920,100) scale(0.10285737795972104)"><ellipse cx="215" cy="300" rx="82.0" ry="138.0" transform="rotate(17 215 300)" class="w"/><ellipse cx="221" cy="304" rx="50.0" ry="105.0" transform="rotate(17 221 304)"/><ellipse cx="295" cy="335" rx="80.36" ry="135.24" transform="rotate(17 295 335)" class="w"/><ellipse cx="301" cy="339" rx="49.0" ry="102.89999999999999" transform="rotate(17 301 339)"/><ellipse cx="375" cy="368" rx="78.72" ry="132.48" transform="rotate(17 375 368)" class="w"/><ellipse cx="381" cy="372" rx="48.0" ry="100.8" transform="rotate(17 381 372)"/><ellipse cx="450" cy="400" rx="77.08" ry="129.72" transform="rotate(17 450 400)" class="w"/><ellipse cx="456" cy="404" rx="47.0" ry="98.69999999999999" transform="rotate(17 456 404)"/><ellipse cx="530" cy="435" rx="75.44" ry="126.96000000000001" transform="rotate(17 530 435)" class="w"/><ellipse cx="536" cy="439" rx="46.0" ry="96.60000000000001" transform="rotate(17 536 439)"/><path d="M672,567L740,590M672,567L730,640"/><path d="M780,578L965,680M735,660L910,765M780,578C750,580 735,610 735,660"/><path d="M960,680C920,700 900,735 910,765M975,672C930,695 915,740 925,790"/><path d="M1010,672L1300,820M935,820L1205,965M1010,672C940,700 905,760 935,820"/><path d="M1062,698.5C992,726.5 957,786.5 987,846.5"/><path d="M1114,725.0C1044,753.0 1009,813.0 1039,873.0"/><path d="M1166,751.5C1096,779.5 1061,839.5 1091,899.5"/><path d="M1218,778.0C1148,806.0 1113,866.0 1143,926.0"/><path d="M1300,820C1240,850 1200,910 1205,965M1300,820L1330,818L1445,880M1205,965L1225,1020L1300,1055"/><ellipse cx="1378" cy="972" rx="72" ry="108" transform="rotate(28 1378 972)" class="w"/><path d="M1320,960L1445,905M1310,1010L1450,945M1330,1040L1440,985"/></g>
<g transform="translate(1895,300) scale(0.13714279444900826)"><ellipse cx="162" cy="208" rx="64.0" ry="100.0" transform="rotate(17 162 208)" class="w"/><ellipse cx="167" cy="211" rx="40.0" ry="76.0" transform="rotate(17 167 211)"/><ellipse cx="220" cy="232" rx="63.04" ry="98.5" transform="rotate(17 220 232)" class="w"/><ellipse cx="225" cy="235" rx="39.4" ry="74.86" transform="rotate(17 225 235)"/><ellipse cx="278" cy="258" rx="62.08" ry="97.0" transform="rotate(17 278 258)" class="w"/><ellipse cx="283" cy="261" rx="38.8" ry="73.72" transform="rotate(17 283 261)"/><ellipse cx="338" cy="285" rx="61.12" ry="95.5" transform="rotate(17 338 285)" class="w"/><ellipse cx="343" cy="288" rx="38.199999999999996" ry="72.58" transform="rotate(17 343 288)"/><ellipse cx="395" cy="312" rx="60.16" ry="94.0" transform="rotate(17 395 312)" class="w"/><ellipse cx="400" cy="315" rx="37.599999999999994" ry="71.44" transform="rotate(17 400 315)"/><path d="M495,368L545,390M485,392L530,415"/><ellipse cx="490" cy="380" rx="8" ry="14" transform="rotate(20 490 380)"/><path d="M570,375L700,440M530,440L665,515M570,375C545,385 525,410 530,440"/><path d="M735,440L950,550M670,545L880,660M735,440C690,455 660,500 670,545"/><path d="M756,451C712,466 682,511 692,556"/><path d="M778,463C733,478 703,523 713,568"/><path d="M800,474C754,489 724,534 734,579"/><path d="M821,485C776,500 746,545 756,590"/><path d="M842,496C798,512 768,556 778,602"/><path d="M864,508C819,523 789,568 799,613"/><path d="M886,519C840,534 810,579 820,624"/><path d="M907,530C862,545 832,590 842,635"/><path d="M928,542C884,557 854,602 864,647"/><path d="M950,550L1030,555L1090,590M880,660L935,700L1000,745L1040,740M1020,555C960,580 925,640 935,700M1085,590C1030,615 990,680 1000,745"/><path d="M1040,660L1075,632L1130,640L1160,680L1150,730L1110,755L1060,745L1035,700Z" class="w"/><ellipse cx="1120" cy="700" rx="33" ry="48" transform="rotate(20 1120 700)"/><path d="M1075,632L1090,690L1060,745"/><path d="M1170,850L1230,700L1295,657L1575,790L1582,830L1480,860C1430,880 1400,930 1395,980L1400,1050L1420,1062L1210,965L1180,880Z" class="w"/><path d="M1230,700L1215,770L1175,840M1215,820L1400,905L1575,790M1215,820L1295,657M1180,850L1395,950M1185,880L1400,985M1400,905L1395,980"/><path d="M1262,690L1330,675L1320,730L1262,762Z"/><path d="M1268,700L1322,686M1266,712L1322,698M1264,724L1320,710M1263,736L1318,722M1262,748L1300,740"/><ellipse cx="1490" cy="962" rx="58" ry="100" transform="rotate(20 1490 962)" class="w"/><ellipse cx="1502" cy="966" rx="42" ry="82" transform="rotate(20 1502 966)"/><path d="M1540,905L1600,900L1660,935L1640,960L1660,990L1640,1050L1590,1090L1545,1075L1560,1040L1510,1020M1570,920L1585,1000L1560,1040M1600,900L1610,960L1640,960M1590,1090L1600,1050L1640,1050"/></g>
<g transform="translate(1780,570) scale(0.2)"><path d="M1537,360L1537,440C1545,460 1585,460 1593,440L1593,360" class="w"/><path d="M1515,215L1515,345C1530,375 1600,375 1612,345L1612,215" class="w"/><path d="M1515,240C1530,262 1600,262 1612,240"/><path d="M1515,262C1530,284 1600,284 1612,262"/><path d="M1515,284C1530,306 1600,306 1612,284"/><path d="M1515,306C1530,328 1600,328 1612,306"/><path d="M1515,328C1530,350 1600,350 1612,328"/><path d="M1495,150L1495,190C1510,225 1620,225 1635,190L1635,150" class="w"/><ellipse cx="1565" cy="150" rx="70" ry="38" class="w"/><path d="M1572,113L1535,200M1590,116L1550,205"/><path d="M1517,820L1517,930C1530,975 1600,975 1615,930L1615,820" class="w"/><path d="M1517,840C1530,862 1600,862 1615,840"/><path d="M1517,862C1530,884 1600,884 1615,862"/><path d="M1517,884C1530,906 1600,906 1615,884"/><path d="M1517,906C1530,928 1600,928 1615,906"/><path d="M1517,928C1530,950 1600,950 1615,928"/><path d="M1492,745L1492,790C1510,825 1620,825 1635,790L1635,745" class="w"/><ellipse cx="1563" cy="745" rx="72" ry="40" class="w"/><path d="M1558,706L1558,800M1578,706L1578,800"/></g>
<g transform="translate(1863.6,665.6) scale(0.22400000000000003)"><g transform="translate(-857,-1038)"><path d="M797,1620L797,1650C810,1675 900,1675 913,1650L913,1620" class="w"/><path d="M780,1565L780,1600C790,1635 925,1635 935,1600L935,1565" class="w"/><ellipse cx="857" cy="1565" rx="77" ry="38" class="w"/><path d="M797,1165L797,1572C810,1590 900,1590 913,1572L913,1165" class="w"/><ellipse cx="820" cy="1490" rx="9" ry="15" transform="rotate(-15 820 1490)"/><ellipse cx="893" cy="1488" rx="9" ry="15" transform="rotate(15 893 1488)"/><ellipse cx="820" cy="1553" rx="9" ry="15" transform="rotate(-15 820 1553)"/><ellipse cx="893" cy="1553" rx="9" ry="15" transform="rotate(15 893 1553)"/><path d="M780,1135L780,1165C790,1205 925,1205 935,1165L935,1135" class="w"/><ellipse cx="857" cy="1135" rx="77" ry="38" class="w"/><path d="M797,1070L797,1128C810,1150 900,1150 913,1128L913,1070" class="w"/><ellipse cx="857" cy="1070" rx="60" ry="32" class="w"/><ellipse cx="857" cy="1072" rx="40" ry="20"/></g></g>
<g transform="translate(130,470) scale(0.2)"><path d="M1055,115C1100,95 1140,100 1170,140C1210,180 1225,230 1220,300L1140,740C1120,850 1060,950 940,1050L545,1330C480,1370 440,1370 410,1330C370,1290 345,1260 352,1190L450,740C480,600 560,470 680,385Z"/><path d="M1150,135C1100,135 1080,150 1050,170L720,395C600,480 530,600 500,740L405,1200C395,1260 400,1300 410,1330"/><ellipse cx="803" cy="737" rx="287" ry="172" transform="rotate(-45 803 737)"/><path d="M595,960C650,1010 760,1010 880,930C1000,840 1070,700 1065,620C1060,560 1040,530 1020,510"/><ellipse cx="1080" cy="303" rx="100" ry="62" transform="rotate(-45 1080 303)"/><path d="M1000,350C1040,345 1100,300 1128,225"/><ellipse cx="548" cy="1197" rx="100" ry="62" transform="rotate(-45 548 1197)"/><path d="M468,1245C508,1240 568,1195 596,1120"/></g>
<g transform="translate(340,480) scale(0.2)"><path d="M60,1290C50,1250 55,1220 65,1180L150,830C180,700 230,620 300,555L630,260C670,230 720,230 760,260L850,305C870,320 900,350 960,425L1060,585C1100,650 1200,700 1290,710L1430,702C1490,705 1530,760 1570,850L1740,1260C1770,1330 1785,1400 1780,1500C1775,1540 1765,1560 1740,1572L1440,1633C1400,1628 1350,1570 1310,1490"/><path d="M380,680L520,540C580,510 650,510 700,525L1000,685C1040,710 1080,735 1130,745L1320,728C1380,745 1420,820 1450,900L1610,1280C1640,1360 1655,1430 1650,1520C1645,1560 1635,1580 1625,1595"/><path d="M520,540L740,330C780,300 820,295 850,305L880,345L850,610"/><ellipse cx="765" cy="450" rx="38" ry="58" transform="rotate(25 765 450)"/><path d="M965,440L1010,680M1070,620L995,840M930,805C970,800 1010,770 1035,740"/><path d="M1130,745L1310,778C1390,810 1450,920 1485,1060C1500,1140 1510,1200 1510,1235"/><path d="M930,1160C1000,1190 1100,1200 1200,1210L1490,1240M1352,1225L1352,1270L1655,1495M1352,1225L1660,1460M1535,1270L1630,1420"/><path d="M765,1435C850,1475 950,1480 1050,1480L1450,1493C1480,1490 1495,1460 1498,1430"/><path d="M60,1290C65,1320 80,1335 110,1350L200,1410C230,1425 260,1420 290,1400L460,1260M150,1360L610,1080M160,1365L625,1088M610,1075C640,1060 670,1060 690,1065M80,1320L150,1360L185,1400M250,1320C280,1330 310,1300 325,1270M395,1225L500,1280M460,1260L725,1045M740,1055C780,1070 820,1082 855,1085"/><path d="M500,1280C485,1320 480,1380 485,1420L500,1990L650,2035C680,2045 700,2035 720,2020L750,1980L755,1795L765,1780L765,1400C768,1370 780,1350 800,1335L888,1255L888,1095L690,1290C660,1330 650,1370 650,1400L655,1850L650,2035"/><path d="M500,1280C520,1250 540,1230 560,1215L700,1080M655,1885L750,1795"/><ellipse cx="703" cy="1953" rx="14" ry="30" transform="rotate(15 703 1953)"/><ellipse cx="703" cy="1953" rx="7" ry="20" transform="rotate(15 703 1953)"/></g>
<g transform="translate(580,490) scale(0.05714285714285714)"><path d="M340,210L920,540M240,580L750,870"/><path d="M340,210C250,200 120,330 125,420C130,500 180,560 240,580"/><path d="M270,240C200,290 150,380 160,470"/><path d="M440,270Q240,400 265,590"/><path d="M530,320Q325,450 355,640"/><path d="M610,365Q400,500 430,690"/><path d="M690,410Q470,550 500,730"/><path d="M760,455Q550,590 585,785"/><path d="M830,500Q625,630 655,830"/><path d="M890,545Q700,670 725,855"/><path d="M760,755L985,495L1200,495L1430,620L1435,920L1185,1220L1065,1220L950,1200L760,1100Z" class="w"/><path d="M760,755L950,870L950,1200M950,870L1170,610L1430,620M985,495L1170,610"/><path d="M985,880C1000,840 1120,690 1180,650L1380,660C1400,700 1405,860 1395,900L1190,1150C1150,1180 1030,1170 1000,1140C980,1100 975,950 985,880Z"/><path d="M1090,770L1290,860M1070,860L1280,960M1050,930L1250,1030M1215,690L1280,700L1270,760L1320,790M1020,990L1090,1040L1070,1120M1300,800L1350,790L1340,870"/></g>
<path d="M358.6,1018.1L667.6,936.1M363.4,1035.9L672.4,953.9"/><ellipse cx="361.0" cy="1027.0" rx="5.5" ry="9.2" transform="rotate(-14.862149696856626 361.0 1027.0)" class="w"/><path d="M0,-9.2A5.5,9.2 0 0 1 0,9.2" transform="translate(368.7,1024.9) rotate(-14.9)"/><path d="M0,-9.2A5.5,9.2 0 0 1 0,9.2" transform="translate(374.7,1023.4) rotate(-14.9)"/><path d="M0,-9.2A5.5,9.2 0 0 1 0,9.2" transform="translate(380.7,1021.8) rotate(-14.9)"/><path d="M0,-9.2A5.5,9.2 0 0 1 0,9.2" transform="translate(386.7,1020.2) rotate(-14.9)"/><path d="M0,-9.2A5.5,9.2 0 0 1 0,9.2" transform="translate(392.7,1018.6) rotate(-14.9)"/><path d="M0,-9.2A5.5,9.2 0 0 1 0,9.2" transform="translate(398.7,1017.0) rotate(-14.9)"/><path d="M0,-9.2A5.5,9.2 0 0 1 0,9.2" transform="translate(404.7,1015.4) rotate(-14.9)"/><path d="M0,-9.2A5.5,9.2 0 0 1 0,9.2" transform="translate(410.7,1013.8) rotate(-14.9)"/><path d="M0,-9.2A5.5,9.2 0 0 1 0,9.2" transform="translate(416.7,1012.2) rotate(-14.9)"/><path d="M0,-9.2A5.5,9.2 0 0 1 0,9.2" transform="translate(422.7,1010.6) rotate(-14.9)"/><path d="M0,-9.2A5.5,9.2 0 0 1 0,9.2" transform="translate(428.7,1009.0) rotate(-14.9)"/><path d="M0,-9.2A5.5,9.2 0 0 1 0,9.2" transform="translate(434.7,1007.5) rotate(-14.9)"/><path d="M0,-9.2A5.5,9.2 0 0 1 0,9.2" transform="translate(440.6,1005.9) rotate(-14.9)"/><path d="M0,-9.2A5.5,9.2 0 0 1 0,9.2" transform="translate(446.6,1004.3) rotate(-14.9)"/><path d="M0,-9.2A5.5,9.2 0 0 1 0,9.2" transform="translate(452.6,1002.7) rotate(-14.9)"/><path d="M0,-9.2A5.5,9.2 0 0 1 0,9.2" transform="translate(458.6,1001.1) rotate(-14.9)"/><path d="M0,-9.2A5.5,9.2 0 0 1 0,9.2" transform="translate(464.6,999.5) rotate(-14.9)"/><path d="M0,-9.2A5.5,9.2 0 0 1 0,9.2" transform="translate(470.6,997.9) rotate(-14.9)"/><path d="M0,-9.2A5.5,9.2 0 0 1 0,9.2" transform="translate(476.6,996.3) rotate(-14.9)"/><path d="M0,-9.2A5.5,9.2 0 0 1 0,9.2" transform="translate(482.6,994.7) rotate(-14.9)"/><path d="M0,-9.2A5.5,9.2 0 0 1 0,9.2" transform="translate(488.6,993.1) rotate(-14.9)"/><path d="M0,-9.2A5.5,9.2 0 0 1 0,9.2" transform="translate(494.6,991.6) rotate(-14.9)"/><path d="M0,-9.2A5.5,9.2 0 0 1 0,9.2" transform="translate(500.6,990.0) rotate(-14.9)"/><ellipse cx="676.0939091393755" cy="943.3828461183534" rx="10" ry="20.5" transform="rotate(-14.862149696856626 676.0939091393755 943.3828461183534)" class="w"/><ellipse cx="672.22772620515" cy="944.4088234665945" rx="10" ry="20.5" transform="rotate(-14.862149696856626 672.22772620515 944.4088234665945)" class="w"/><ellipse cx="669.328089004481" cy="945.1783064777753" rx="5.5" ry="9.2" transform="rotate(-14.862149696856626 669.328089004481 945.1783064777753)"/><path d="M677.3,932.2L723.7,919.9M682.7,952.5L729.0,940.2"/><path d="M0,-10.5A6,10.5 0 0 1 0,10.5" transform="translate(683.8,941.3) rotate(-14.9)"/><path d="M0,-10.5A6,10.5 0 0 1 0,10.5" transform="translate(689.6,939.8) rotate(-14.9)"/><path d="M0,-10.5A6,10.5 0 0 1 0,10.5" transform="translate(695.4,938.3) rotate(-14.9)"/><path d="M0,-10.5A6,10.5 0 0 1 0,10.5" transform="translate(701.2,936.7) rotate(-14.9)"/><path d="M0,-10.5A6,10.5 0 0 1 0,10.5" transform="translate(707.0,935.2) rotate(-14.9)"/><path d="M0,-10.5A6,10.5 0 0 1 0,10.5" transform="translate(712.8,933.6) rotate(-14.9)"/><path d="M0,-10.5A6,10.5 0 0 1 0,10.5" transform="translate(718.6,932.1) rotate(-14.9)"/><path d="M0,-10.5A6,10.5 0 0 1 0,10.5" transform="translate(724.4,930.6) rotate(-14.9)"/><path transform="translate(726.4,930.0) rotate(-14.9)" d="M0,-10L16,-10L18,-7L18,-2L3,-2L3,2L18,2L18,8L16,10L0,10M3,-6L16,-6"/>
<g transform="translate(220,1020) scale(0.04)"><ellipse cx="1060" cy="850" rx="410" ry="625" transform="rotate(-6 1060 850)" class="w"/><ellipse cx="935" cy="865" rx="405" ry="600" transform="rotate(-6 935 865)" class="w"/><path d="M620,450L860,380L1160,650L850,770Z" class="w"/><path d="M850,770L1160,670L1215,1180L900,1260Z" class="w"/><path d="M900,1260L760,1400M1215,1180L1000,1360L900,1385M860,770L890,1260"/><ellipse cx="600" cy="935" rx="270" ry="450" transform="rotate(-8 600 935)" class="w"/><ellipse cx="485" cy="960" rx="280" ry="450" transform="rotate(-8 485 960)" class="w"/><ellipse cx="490" cy="985" rx="160" ry="262" transform="rotate(-5 490 985)"/><path d="M510,760L510,1040L620,1150"/></g>
<g transform="translate(1003.6,1856) scale(0.785) translate(-1041,-534) translate(910,400) scale(0.2)"><path d="M655,680L1470,900C1485,905 1487,920 1487,930L1487,1915M652,680L652,1655M325,305C355,318 385,340 415,378L655,678"/><path d="M170,320L320,300C350,310 380,330 410,370L655,670L1480,888C1500,895 1505,910 1505,930L1508,1870L1485,1915L1470,1918L690,1712C665,1700 650,1680 648,1650L160,380C150,345 155,325 170,320Z"/><ellipse cx="405" cy="648" rx="98" ry="232" transform="rotate(-17 405 648)"/><ellipse cx="408" cy="650" rx="88" ry="222" transform="rotate(-17 408 650)"/><ellipse cx="208" cy="413" rx="19" ry="56" transform="rotate(-20 208 413)"/><ellipse cx="208" cy="413" rx="11" ry="46" transform="rotate(-20 208 413)"/><ellipse cx="598" cy="888" rx="19" ry="56" transform="rotate(-20 598 888)"/><ellipse cx="598" cy="888" rx="11" ry="46" transform="rotate(-20 598 888)"/></g>
<g transform="translate(792.6,1777) scale(0.2)"><path d="M945,1520L950,1575C965,1602 1080,1606 1098,1570L1100,1520" class="w"/><path d="M975,1590C1000,1572 1020,1552 1030,1527"/><path d="M990,1597C1012,1582 1032,1562 1042,1537"/><path d="M952,1560C990,1575 1060,1575 1098,1555"/><ellipse cx="1022" cy="1486" rx="112" ry="64" class="w"/><ellipse cx="1022" cy="1474" rx="112" ry="64" class="w"/><ellipse cx="1022" cy="1478" rx="62" ry="37"/><path d="M1018,1410L1018,1438M1027,1410L1027,1438M912,1472L958,1472M912,1479L958,1479M1088,1472L1134,1472M1088,1479L1134,1479M1024,1518L1024,1548M1031,1518L1031,1548"/></g>
<g transform="translate(875.6,1920.4) scale(0.2)"><path d="M545,962L578,935C598,928 615,948 612,975L578,1015" class="w"/><path d="M562,948C578,958 590,985 588,1003"/><ellipse cx="522" cy="1008" rx="36" ry="58" transform="rotate(-20 522 1008)" class="w"/><ellipse cx="529" cy="1012" rx="24" ry="47" transform="rotate(-20 529 1012)"/><path d="M505,975C500,1000 510,1040 530,1055"/><path d="M490,985L510,968"/></g>
<g transform="translate(762.6,1911.4) scale(0.2)"><path d="M1025,1518L1270,1255C1285,1240 1315,1260 1318,1295L1070,1560"/><ellipse cx="1047" cy="1538" rx="30" ry="22" transform="rotate(-47 1047 1538)"/></g>
<g transform="translate(1046,1681.8) scale(0.2)"><path d="M970,678L930,745L930,775L912,790L912,930L975,960L1038,925L1038,790L1022,775L1022,745Z" class="w"/><path d="M930,775C950,795 1000,795 1022,775M930,745C950,762 1000,762 1022,745M912,790L975,815L1038,790M975,815L975,960"/><ellipse cx="948" cy="790" rx="12" ry="12"/><path d="M945,948L945,985M1005,945L1005,985"/><path d="M930,985L930,1020C940,1045 1010,1045 1020,1020L1020,985"/><ellipse cx="975" cy="985" rx="45" ry="18"/></g>
<g transform="translate(1048,1905.6) scale(0.2)"><path d="M881,232L881,520A104,55 0 0 0 1089,520L1089,232" class="w"/><ellipse cx="985" cy="232" rx="104" ry="55" class="w"/><ellipse cx="985" cy="226" rx="78" ry="40"/><ellipse cx="985" cy="226" rx="42" ry="22"/><path d="M962,232C972,218 998,218 1008,232"/></g>
<g transform="translate(1003.4,1675.7) scale(0.2)"><ellipse cx="1247" cy="1977.5" rx="122" ry="70.5" class="w"/><ellipse cx="1247" cy="1957" rx="122" ry="70.5" class="w"/><ellipse cx="1247" cy="1925" rx="62.5" ry="38.5"/></g>
<g transform="translate(1313,2162.7)"><ellipse cx="0" cy="5.7982000000000005" rx="99.007" ry="57.2162" class="w"/><ellipse cx="0" cy="0" rx="99.007" ry="57.2162" class="w"/><ellipse cx="0" cy="-0.7658" rx="87.8482" ry="50.324000000000005"/><path d="M-86.3,7.1A86.8,50.3 0 0 1 86.3,7.1"/></g>
<g transform="translate(1353.6,1630) scale(0.2)"><path d="M797,1620L797,1650C810,1675 900,1675 913,1650L913,1620" class="w"/><path d="M780,1565L780,1600C790,1635 925,1635 935,1600L935,1565" class="w"/><ellipse cx="857" cy="1565" rx="77" ry="38" class="w"/><path d="M797,1165L797,1572C810,1590 900,1590 913,1572L913,1165" class="w"/><ellipse cx="820" cy="1490" rx="9" ry="15" transform="rotate(-15 820 1490)"/><ellipse cx="893" cy="1488" rx="9" ry="15" transform="rotate(15 893 1488)"/><ellipse cx="820" cy="1553" rx="9" ry="15" transform="rotate(-15 820 1553)"/><ellipse cx="893" cy="1553" rx="9" ry="15" transform="rotate(15 893 1553)"/><path d="M780,1135L780,1165C790,1205 925,1205 935,1165L935,1135" class="w"/><ellipse cx="857" cy="1135" rx="77" ry="38" class="w"/><path d="M797,1070L797,1128C810,1150 900,1150 913,1128L913,1070" class="w"/><ellipse cx="857" cy="1070" rx="60" ry="32" class="w"/><ellipse cx="857" cy="1072" rx="40" ry="20"/></g>
<g transform="translate(1354,1632) scale(0.2)"><ellipse cx="865" cy="1845" rx="145" ry="80" class="w"/><ellipse cx="865" cy="1820" rx="145" ry="80" class="w"/><ellipse cx="865" cy="1815" rx="88" ry="48"/><path d="M782,1832C800,1800 930,1800 948,1832"/></g>
<g transform="translate(1196,2037) scale(0.2)"><path d="M1537,360L1537,440C1545,460 1585,460 1593,440L1593,360" class="w"/><path d="M1515,215L1515,345C1530,375 1600,375 1612,345L1612,215" class="w"/><path d="M1515,240C1530,262 1600,262 1612,240"/><path d="M1515,262C1530,284 1600,284 1612,262"/><path d="M1515,284C1530,306 1600,306 1612,284"/><path d="M1515,306C1530,328 1600,328 1612,306"/><path d="M1515,328C1530,350 1600,350 1612,328"/><path d="M1495,150L1495,190C1510,225 1620,225 1635,190L1635,150" class="w"/><ellipse cx="1565" cy="150" rx="70" ry="38" class="w"/><path d="M1572,113L1535,200M1590,116L1550,205"/></g>
<g transform="translate(1502,1533.4) scale(0.2)"><path d="M880,1383L880,1455A117,72 0 0 0 1114,1455L1114,1383" class="w"/><ellipse cx="997" cy="1383" rx="117" ry="72" class="w"/><ellipse cx="1005" cy="1376" rx="80" ry="48"/><ellipse cx="1006" cy="1380" rx="70" ry="41"/><ellipse cx="1007" cy="1386" rx="60" ry="33"/><path d="M940,1395C960,1422 1050,1425 1075,1392M945,1405C965,1432 1045,1435 1068,1405M935,1380C945,1350 1000,1338 1050,1348M950,1372C965,1352 1040,1348 1065,1368M958,1380C972,1364 1035,1360 1058,1378M952,1412C972,1440 1040,1442 1060,1416"/><path d="M928,1380L980,1522M942,1378L994,1520"/><path d="M985,1520C950,1510 900,1510 860,1525C820,1540 805,1560 825,1580C850,1598 900,1595 922,1585L922,1572C900,1580 860,1582 840,1570C825,1558 835,1545 870,1535C910,1525 950,1525 985,1530"/></g>
<g transform="translate(1495,1666) scale(0.2)"><path d="M902,1215L902,1300A116,63 0 0 0 1134,1300L1134,1215" class="w"/><ellipse cx="1018" cy="1215" rx="116" ry="63" class="w"/><ellipse cx="1020" cy="1217" rx="58" ry="33"/></g>
<g transform="translate(1117,2389) scale(0.81) translate(-1041,-534) translate(910,400) scale(0.2)"><path d="M655,680L1470,900C1485,905 1487,920 1487,930L1487,1915M652,680L652,1655M325,305C355,318 385,340 415,378L655,678"/><path d="M170,320L320,300C350,310 380,330 410,370L655,670L1480,888C1500,895 1505,910 1505,930L1508,1870L1485,1915L1470,1918L690,1712C665,1700 650,1680 648,1650L160,380C150,345 155,325 170,320Z"/><ellipse cx="405" cy="648" rx="98" ry="232" transform="rotate(-17 405 648)"/><ellipse cx="408" cy="650" rx="88" ry="222" transform="rotate(-17 408 650)"/><ellipse cx="208" cy="413" rx="19" ry="56" transform="rotate(-20 208 413)"/><ellipse cx="208" cy="413" rx="11" ry="46" transform="rotate(-20 208 413)"/><ellipse cx="598" cy="888" rx="19" ry="56" transform="rotate(-20 598 888)"/><ellipse cx="598" cy="888" rx="11" ry="46" transform="rotate(-20 598 888)"/></g>
<g transform="translate(1475.5,2414)"><ellipse cx="0" cy="5.943949999999999" rx="101.49575" ry="58.65445" class="w"/><ellipse cx="0" cy="0" rx="101.49575" ry="58.65445" class="w"/><ellipse cx="0" cy="-0.7850499999999999" rx="90.05645" ry="51.589"/><path d="M-88.6,7.3A89.1,51.6 0 0 1 88.6,7.3"/></g>
<g transform="translate(1204.8,2225) scale(0.2)"><ellipse cx="988" cy="1532" rx="137" ry="78" class="w"/><ellipse cx="988" cy="1510" rx="137" ry="78" class="w"/><ellipse cx="990" cy="1508" rx="85" ry="48"/><path d="M910,1520C925,1490 1055,1490 1070,1520"/></g>
</g></svg></body></html>
